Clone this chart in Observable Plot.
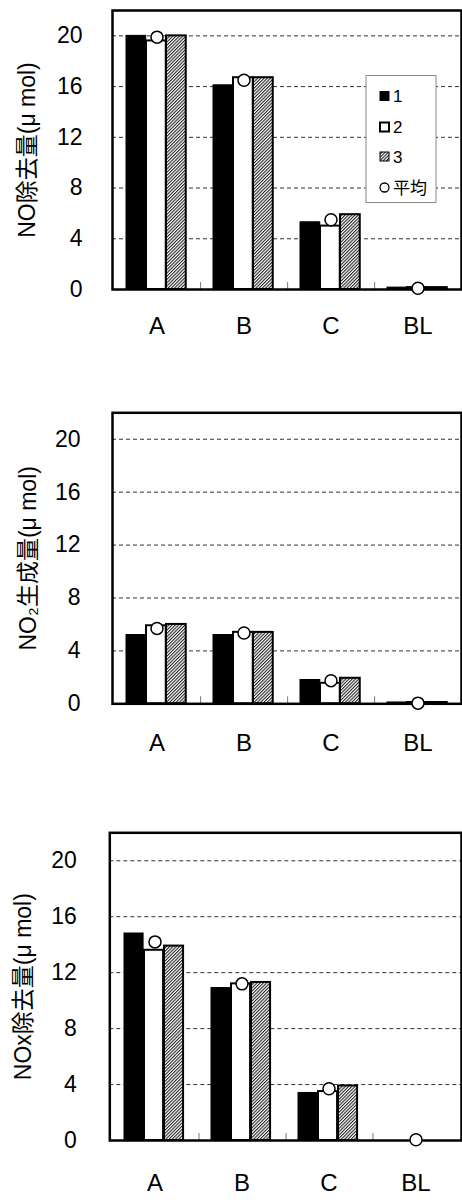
<!DOCTYPE html>
<html><head><meta charset="utf-8">
<script src="https://cdn.jsdelivr.net/npm/d3@7"></script>
<script src="https://cdn.jsdelivr.net/npm/@observablehq/plot@0.6"></script>
<style>
body{margin:0;background:#fff;}
#wrap{position:relative;width:462px;}
#wrap svg{display:block;}
</style></head><body>
<svg width="0" height="0" style="position:absolute">
<defs><pattern id="hatch" patternUnits="userSpaceOnUse" width="2.3" height="2.3" patternTransform="rotate(45)">
<rect width="2.3" height="2.3" fill="#fff"/><line x1="0.5" y1="0" x2="0.5" y2="2.3" stroke="#222" stroke-width="1.15"/></pattern></defs></svg>
<div id="wrap"></div>
<script>
const categories = ["A", "B", "C", "BL"];
const seriesNames = ["1", "2", "3"];
const meanName = "平均";
const yTicks = [0, 4, 8, 12, 16, 20];
const gridTicks = [4, 8, 12, 16, 20];
const yLabels = ["NO除去量(μ mol)", "NO₂生成量(μ mol)", "NOx除去量(μ mol)"];

// NO removal
const noRemoval1 = [20.0, 16.1, 5.3, 0.15];
const noRemoval2 = [19.6, 16.7, 5.0, 0.15];
const noRemoval3 = [20.0, 16.7, 5.9, 0.15];
const noRemovalMean = [19.9, 16.5, 5.5, 0.1];
// NO2 generation
const no2Gen1 = [5.2, 5.2, 1.8, 0.1];
const no2Gen2 = [5.9, 5.4, 1.55, 0.1];
const no2Gen3 = [6.0, 5.4, 1.93, 0.1];
const no2GenMean = [5.7, 5.35, 1.75, 0.05];
// NOx removal
const noxRemoval1 = [14.8, 10.9, 3.4, 0];
const noxRemoval2 = [13.6, 11.2, 3.5, 0];
const noxRemoval3 = [13.9, 11.3, 3.9, 0];
const noxRemovalMean = [14.2, 11.2, 3.7, 0.05];

const FONT = "'Liberation Sans', 'Noto Sans CJK JP', sans-serif";
const fills = ["#000", "#fff", "url(#hatch)"];
const strokeW = [1, 2, 2];

function makePanel(series, mean, label, L) {
  const bw = (462 - L.ml - L.mr) / categories.length;
  const barLeft = [13, 33, 53], barW = 20;
  const rows = s => categories.map((c, i) => ({cat: c, v: series[s][i]}));
  const meanRows = categories.map((c, i) => ({cat: c, v: mean[i]}));
  return Plot.plot({
    width: 462, height: L.height,
    marginTop: L.mt, marginBottom: L.mb, marginLeft: L.ml, marginRight: L.mr,
    style: {fontFamily: FONT, fontSize: "23px", color: "#000", background: "#fff", overflow: "visible"},
    x: {domain: categories, padding: 0},
    y: {domain: [0, 22]},
    marks: [
      Plot.ruleY(gridTicks, {y: d => d, stroke: "#333", strokeDasharray: "4,3", strokeWidth: 1}),
      ...[0, 1, 2].map(s => Plot.barY(rows(s), {
        x: "cat", y: "v", fill: fills[s], stroke: "#000", strokeWidth: strokeW[s],
        insetLeft: barLeft[s], insetRight: bw - barLeft[s] - barW
      })),
      Plot.ruleX(categories.slice(0, -1), {x: d => d, y1: 0, y2: L.tick, dx: bw / 2, stroke: "#777", strokeWidth: 1}),
      Plot.frame({stroke: "#000", strokeWidth: 2.5}),
      Plot.axisY({ticks: yTicks, tickSize: 0, tickPadding: L.yPad, label: null, fontSize: 23, fill: "#000"}),
      Plot.axisX({tickSize: 0, tickPadding: L.xPad, label: null, fontSize: 24, fill: "#000"}),
      Plot.dot(meanRows, {x: "cat", y: "v", r: 6, fill: "#fff", stroke: "#000", strokeWidth: 1.5}),
      Plot.text([label], {text: d => d, frameAnchor: "left", dx: L.labelDx, rotate: -90, textAnchor: "middle", fontSize: 23, fill: "#000"})
    ]
  });
}

const wrap = document.getElementById("wrap");
wrap.appendChild(makePanel([noRemoval1, noRemoval2, noRemoval3], noRemovalMean, yLabels[0],
  {height: 380, mt: 10, mb: 91, ml: 112, mr: 1, yPad: 30, xPad: 27, labelDx: -85, tick: 0.55}));
wrap.appendChild(makePanel([no2Gen1, no2Gen2, no2Gen3], no2GenMean, yLabels[1],
  {height: 420, mt: 32.3, mb: 96.7, ml: 112, mr: 1, yPad: 32, xPad: 30, labelDx: -84, tick: 0.53}));
wrap.appendChild(makePanel([noxRemoval1, noxRemoval2, noxRemoval3], noxRemovalMean, yLabels[2],
  {height: 403, mt: 32.3, mb: 63, ml: 109.3, mr: 1, yPad: 33, xPad: 33, labelDx: -86, tick: 0.5}));

// legend (in first panel)
const leg = d3.select(wrap).append("svg")
  .attr("width", 462).attr("height", 210)
  .style("position", "absolute").style("left", "0px").style("top", "0px")
  .style("font-family", FONT).style("font-size", "17px");
leg.append("rect").attr("x", 366).attr("y", 75.5).attr("width", 70).attr("height", 127)
  .attr("fill", "#fff").attr("stroke", "#888").attr("stroke-width", 1);
const items = [...seriesNames, meanName];
const rowY = [96, 127, 156.5, 187.5];
items.forEach((name, i) => {
  const y = rowY[i];
  if (i < 3) {
    leg.append("rect").attr("x", 380).attr("y", y - 4.5).attr("width", 9).attr("height", 9)
      .attr("fill", fills[i]).attr("stroke", "#000").attr("stroke-width", i === 1 ? 2 : 1);
  } else {
    leg.append("circle").attr("cx", 384.5).attr("cy", y).attr("r", 4.5)
      .attr("fill", "#fff").attr("stroke", "#000").attr("stroke-width", 1.3);
  }
  leg.append("text").attr("x", 393).attr("y", y).attr("dy", "0.36em").text(name);
});
</script>
</body></html>
